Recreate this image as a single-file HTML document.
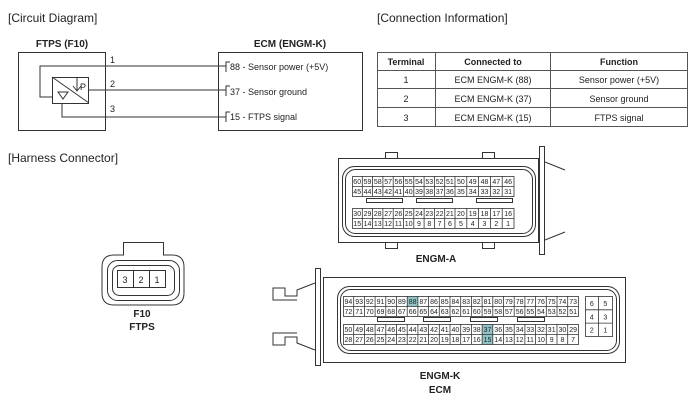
<!DOCTYPE html>
<html><head><meta charset="utf-8"><style>
body{margin:0;background:#fff}
svg{display:block;font-family:"Liberation Sans",Arial,sans-serif}
text{fill:#222}
</style></head><body>
<svg width="700" height="405" viewBox="0 0 700 405" xmlns="http://www.w3.org/2000/svg">
<g font-size="12">
<text x="8" y="22">[Circuit Diagram]</text>
<text x="377" y="22">[Connection Information]</text>
<text x="8" y="162">[Harness Connector]</text>
</g>
<!-- circuit -->
<g stroke="#333" fill="none" stroke-width="1">
<rect x="18.5" y="52.5" width="87" height="78"/>
<rect x="218.5" y="52.5" width="144" height="78"/>
<rect x="52.5" y="77.5" width="36" height="26"/>
<line x1="52" y1="77" x2="89" y2="103"/>
<path d="M226,66 H40 V97 H52"/>
<path d="M89,90 H226"/>
<path d="M62,103 V117 H226"/>
<path d="M77,78 V90 M73,86 L77,91 L81,86"/>
<path d="M58,92 H68 L63,99 Z"/>
<path d="M230,62 H226 V72"/><path d="M230,86 H226 V96"/><path d="M230,112 H226 V122"/>
</g>
<g font-size="9">
<text x="80" y="90">P</text>
<text x="110" y="63">1</text><text x="110" y="87">2</text><text x="110" y="112">3</text>
<text x="230" y="70">88 - Sensor power (+5V)</text>
<text x="230" y="95">37 - Sensor ground</text>
<text x="230" y="120">15 - FTPS signal</text>
</g>
<g font-size="10" font-weight="bold" text-anchor="middle">
<text x="62" y="47">FTPS (F10)</text>
<text x="290" y="47">ECM (ENGM-K)</text>
</g>
<!-- table -->
<g stroke="#555" fill="none">
<rect x="377.5" y="52.5" width="310" height="74"/>
<line x1="377" y1="70.5" x2="688" y2="70.5"/>
<line x1="377" y1="88.5" x2="688" y2="88.5"/>
<line x1="377" y1="107.5" x2="688" y2="107.5"/>
<line x1="435.5" y1="52" x2="435.5" y2="127"/>
<line x1="550.5" y1="52" x2="550.5" y2="127"/>
</g>
<g font-size="9" text-anchor="middle">
<g font-weight="bold"><text x="406" y="65">Terminal</text><text x="493" y="65">Connected to</text><text x="619" y="65">Function</text></g>
<text x="406" y="83">1</text><text x="493" y="83">ECM ENGM-K (88)</text><text x="619" y="83">Sensor power (+5V)</text>
<text x="406" y="102">2</text><text x="493" y="102">ECM ENGM-K (37)</text><text x="619" y="102">Sensor ground</text>
<text x="406" y="121">3</text><text x="493" y="121">ECM ENGM-K (15)</text><text x="619" y="121">FTPS signal</text>
</g>
<!-- F10 -->
<g stroke="#333" fill="none">
<path d="M123.5,255 V242.5 H163.5 V255 H172 Q184,255 184,267 V293 Q184,305 172,305 H114 Q102,305 102,293 V267 Q102,255 114,255 Z"/>
<rect x="107.5" y="260.5" width="72" height="40" rx="10"/>
<rect x="112.5" y="265.5" width="62" height="30" rx="7"/>
<rect x="117.5" y="270.5" width="48" height="17"/>
<line x1="133.5" y1="270" x2="133.5" y2="288"/><line x1="149.5" y1="270" x2="149.5" y2="288"/>
</g>
<g font-size="9" text-anchor="middle"><text x="125" y="283">3</text><text x="141" y="283">2</text><text x="157" y="283">1</text></g>
<g font-size="10" font-weight="bold" text-anchor="middle"><text x="142" y="317">F10</text><text x="142" y="330">FTPS</text>
<text x="436" y="262">ENGM-A</text><text x="440" y="379">ENGM-K</text><text x="440" y="393">ECM</text></g>
<!-- ENGM-A -->
<g stroke="#333" fill="none">
<rect x="338.5" y="158.5" width="200" height="84"/>
<rect x="342.5" y="166.5" width="193" height="70" rx="12"/>
<rect x="345.5" y="169.5" width="187" height="64" rx="10"/>
<rect x="539.5" y="146.5" width="5" height="108"/>
<path d="M545,162 L565,170 M545,240 L565,232"/>
<rect x="385.5" y="152.5" width="12" height="6"/><rect x="482.5" y="152.5" width="12" height="6"/>
<rect x="385.5" y="242.5" width="12" height="6"/><rect x="482.5" y="242.5" width="12" height="6"/>
<rect x="366.5" y="198.5" width="36" height="4"/><rect x="416.5" y="198.5" width="36" height="4"/><rect x="476.5" y="198.5" width="36" height="4"/>
<g stroke-width="0.8">
<rect x="352.5" y="176.5" width="161.5" height="20"/><line x1="352" y1="186.5" x2="514" y2="186.5"/>
<rect x="352.5" y="208.5" width="161.5" height="20"/><line x1="352" y1="218.5" x2="514" y2="218.5"/>
<path d="M362.3,176V196M372.6,176V196M382.9,176V196M393.2,176V196M403.5,176V196M413.8,176V196M424.1,176V196M434.4,176V196M444.7,176V196M455,176V196M466.8,176V196M478.6,176V196M490.4,176V196M502.2,176V196
M362.3,208V228M372.6,208V228M382.9,208V228M393.2,208V228M403.5,208V228M413.8,208V228M424.1,208V228M434.4,208V228M444.7,208V228M455,208V228M466.8,208V228M478.6,208V228M490.4,208V228M502.2,208V228"/>
</g>
</g>
<g font-size="7" text-anchor="middle">
<text y="184"><tspan x="357.2">60</tspan><tspan x="367.5">59</tspan><tspan x="377.8">58</tspan><tspan x="388.1">57</tspan><tspan x="398.4">56</tspan><tspan x="408.7">55</tspan><tspan x="419">54</tspan><tspan x="429.3">53</tspan><tspan x="439.6">52</tspan><tspan x="449.9">51</tspan><tspan x="460.9">50</tspan><tspan x="472.7">49</tspan><tspan x="484.5">48</tspan><tspan x="496.3">47</tspan><tspan x="508.1">46</tspan></text>
<text y="194"><tspan x="357.2">45</tspan><tspan x="367.5">44</tspan><tspan x="377.8">43</tspan><tspan x="388.1">42</tspan><tspan x="398.4">41</tspan><tspan x="408.7">40</tspan><tspan x="419">39</tspan><tspan x="429.3">38</tspan><tspan x="439.6">37</tspan><tspan x="449.9">36</tspan><tspan x="460.9">35</tspan><tspan x="472.7">34</tspan><tspan x="484.5">33</tspan><tspan x="496.3">32</tspan><tspan x="508.1">31</tspan></text>
<text y="216"><tspan x="357.2">30</tspan><tspan x="367.5">29</tspan><tspan x="377.8">28</tspan><tspan x="388.1">27</tspan><tspan x="398.4">26</tspan><tspan x="408.7">25</tspan><tspan x="419">24</tspan><tspan x="429.3">23</tspan><tspan x="439.6">22</tspan><tspan x="449.9">21</tspan><tspan x="460.9">20</tspan><tspan x="472.7">19</tspan><tspan x="484.5">18</tspan><tspan x="496.3">17</tspan><tspan x="508.1">16</tspan></text>
<text y="226"><tspan x="357.2">15</tspan><tspan x="367.5">14</tspan><tspan x="377.8">13</tspan><tspan x="388.1">12</tspan><tspan x="398.4">11</tspan><tspan x="408.7">10</tspan><tspan x="419">9</tspan><tspan x="429.3">8</tspan><tspan x="439.6">7</tspan><tspan x="449.9">6</tspan><tspan x="460.9">5</tspan><tspan x="472.7">4</tspan><tspan x="484.5">3</tspan><tspan x="496.3">2</tspan><tspan x="508.1">1</tspan></text>
</g>
<!-- ENGM-K -->
<g fill="#8fc3c6" stroke="none">
<rect x="407.2" y="296.5" width="10.7" height="10"/>
<rect x="482.1" y="324.5" width="10.7" height="20"/>
</g>
<g stroke="#333" fill="none">
<rect x="323.5" y="277.5" width="302" height="85"/>
<rect x="337.5" y="286.5" width="282" height="67" rx="12"/>
<rect x="340.5" y="289.5" width="276" height="61" rx="10"/>
<rect x="315.5" y="268.5" width="5" height="97"/>
<path d="M315,283 L297,290 V296 H285 V288 H273 V300 H297 M315,350 L297,343 V337 H285 V345 H273 V333 H297"/>
<rect x="377.5" y="317.5" width="27" height="4"/><rect x="423.5" y="317.5" width="27" height="4"/><rect x="470.5" y="317.5" width="27" height="4"/><rect x="517.5" y="317.5" width="27" height="4"/>
<g stroke-width="0.8">
<rect x="343.5" y="296.5" width="235" height="20"/><line x1="343" y1="306.5" x2="578" y2="306.5"/>
<rect x="343.5" y="324.5" width="235" height="20"/><line x1="343" y1="334.5" x2="578" y2="334.5"/>
<path d="M353.7,296V316M364.4,296V316M375.1,296V316M385.8,296V316M396.5,296V316M407.2,296V316M417.9,296V316M428.6,296V316M439.3,296V316M450,296V316M460.7,296V316M471.4,296V316M482.1,296V316M492.8,296V316M503.5,296V316M514.2,296V316M524.9,296V316M535.6,296V316M546.3,296V316M557,296V316M567.7,296V316
M353.7,324V344M364.4,324V344M375.1,324V344M385.8,324V344M396.5,324V344M407.2,324V344M417.9,324V344M428.6,324V344M439.3,324V344M450,324V344M460.7,324V344M471.4,324V344M482.1,324V344M492.8,324V344M503.5,324V344M514.2,324V344M524.9,324V344M535.6,324V344M546.3,324V344M557,324V344M567.7,324V344"/>
<rect x="585.5" y="296.5" width="27" height="40"/>
<path d="M598.5,296V336M585,309.8H612M585,323.1H612"/>
</g>
</g>
<g font-size="7" text-anchor="middle">
<text y="304"><tspan x="348.4">94</tspan><tspan x="359.1">93</tspan><tspan x="369.8">92</tspan><tspan x="380.5">91</tspan><tspan x="391.2">90</tspan><tspan x="401.9">89</tspan><tspan x="412.6">88</tspan><tspan x="423.3">87</tspan><tspan x="434">86</tspan><tspan x="444.7">85</tspan><tspan x="455.4">84</tspan><tspan x="466.1">83</tspan><tspan x="476.8">82</tspan><tspan x="487.5">81</tspan><tspan x="498.2">80</tspan><tspan x="508.9">79</tspan><tspan x="519.6">78</tspan><tspan x="530.3">77</tspan><tspan x="541">76</tspan><tspan x="551.7">75</tspan><tspan x="562.4">74</tspan><tspan x="573.1">73</tspan></text>
<text y="314"><tspan x="348.4">72</tspan><tspan x="359.1">71</tspan><tspan x="369.8">70</tspan><tspan x="380.5">69</tspan><tspan x="391.2">68</tspan><tspan x="401.9">67</tspan><tspan x="412.6">66</tspan><tspan x="423.3">65</tspan><tspan x="434">64</tspan><tspan x="444.7">63</tspan><tspan x="455.4">62</tspan><tspan x="466.1">61</tspan><tspan x="476.8">60</tspan><tspan x="487.5">59</tspan><tspan x="498.2">58</tspan><tspan x="508.9">57</tspan><tspan x="519.6">56</tspan><tspan x="530.3">55</tspan><tspan x="541">54</tspan><tspan x="551.7">53</tspan><tspan x="562.4">52</tspan><tspan x="573.1">51</tspan></text>
<text y="332"><tspan x="348.4">50</tspan><tspan x="359.1">49</tspan><tspan x="369.8">48</tspan><tspan x="380.5">47</tspan><tspan x="391.2">46</tspan><tspan x="401.9">45</tspan><tspan x="412.6">44</tspan><tspan x="423.3">43</tspan><tspan x="434">42</tspan><tspan x="444.7">41</tspan><tspan x="455.4">40</tspan><tspan x="466.1">39</tspan><tspan x="476.8">38</tspan><tspan x="487.5">37</tspan><tspan x="498.2">36</tspan><tspan x="508.9">35</tspan><tspan x="519.6">34</tspan><tspan x="530.3">33</tspan><tspan x="541">32</tspan><tspan x="551.7">31</tspan><tspan x="562.4">30</tspan><tspan x="573.1">29</tspan></text>
<text y="342"><tspan x="348.4">28</tspan><tspan x="359.1">27</tspan><tspan x="369.8">26</tspan><tspan x="380.5">25</tspan><tspan x="391.2">24</tspan><tspan x="401.9">23</tspan><tspan x="412.6">22</tspan><tspan x="423.3">21</tspan><tspan x="434">20</tspan><tspan x="444.7">19</tspan><tspan x="455.4">18</tspan><tspan x="466.1">17</tspan><tspan x="476.8">16</tspan><tspan x="487.5">15</tspan><tspan x="498.2">14</tspan><tspan x="508.9">13</tspan><tspan x="519.6">12</tspan><tspan x="530.3">11</tspan><tspan x="541">10</tspan><tspan x="551.7">9</tspan><tspan x="562.4">8</tspan><tspan x="573.1">7</tspan></text>
<text y="306"><tspan x="591.8">6</tspan><tspan x="605.3">5</tspan></text>
<text y="319.3"><tspan x="591.8">4</tspan><tspan x="605.3">3</tspan></text>
<text y="332.6"><tspan x="591.8">2</tspan><tspan x="605.3">1</tspan></text>
</g>
</svg>
</body></html>
